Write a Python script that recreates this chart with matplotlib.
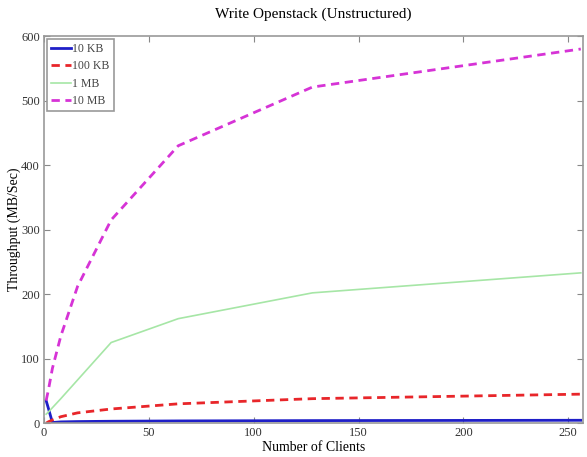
import numpy as np
import matplotlib
matplotlib.use('Agg')
import matplotlib.pyplot as plt

plt.rcParams['font.family'] = ['Liberation Serif', 'DejaVu Serif']

# Values.
clients = np.array([1, 2, 4, 8, 16, 32, 64, 128, 256])
kb10 = np.array([35, 24, 1, 2, 2.5, 3, 3.5, 4, 4.5])
kb100 = np.array([0, 2, 5, 10, 16, 22, 30, 38, 45])
mb1 = np.array([14, 17, 24, 38, 67, 125, 162, 202, 233])
mb10 = np.array([35, 50, 85, 135, 212, 315, 430, 521, 580])

fig = plt.figure(figsize=(5.87, 4.57), dpi=100)
ax = fig.add_axes([0.075, 0.074, 0.918, 0.847])

ax.plot(clients, kb10, color='#1f1fc8', lw=2, label='10 KB')
ax.plot(clients, kb100, color='#e8262a', lw=2, ls=(0, (3, 2)), label='100 KB')
ax.plot(clients, mb1, color='#a6e6a6', lw=1.2, label='1 MB')
ax.plot(clients, mb10, color='#d633d6', lw=2, ls=(0, (3, 2)), label='10 MB')

ax.set_xlim(0, 257)
ax.set_ylim(0, 600)
ax.set_xticks(np.arange(0, 251, 50))
ax.set_yticks(np.arange(0, 601, 100))
ax.tick_params(direction='in', length=4, top=True, right=True,
               labelsize=9, colors='#888888', labelcolor='#333333', pad=3)
for s in ax.spines.values():
    s.set_color('#999999')
    s.set_linewidth(1.2)

ax.set_title('Write Openstack (Unstructured)', fontsize=11, pad=13)
ax.set_xlabel('Number of Clients', fontsize=10, labelpad=1)
ax.set_ylabel('Throughput (MB/Sec)', fontsize=10, labelpad=0)

leg = ax.legend(loc='upper left', fontsize=8.5, handlelength=1.7, handletextpad=0.1,
                borderaxespad=0.25, labelspacing=0.45, borderpad=0.35, fancybox=False,
                framealpha=1)
leg.get_frame().set_edgecolor('#999999')
leg.get_frame().set_linewidth(1.2)
for t in leg.get_texts():
    t.set_color('#444444')

fig.savefig('out.png', dpi=100)
